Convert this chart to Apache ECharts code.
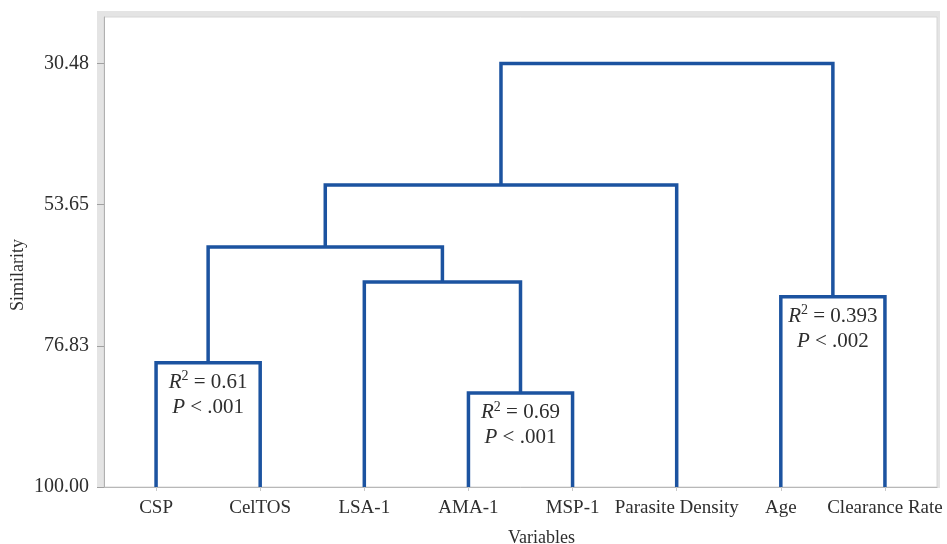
<!DOCTYPE html>
<html>
<head>
<meta charset="utf-8">
<script src="https://cdn.jsdelivr.net/npm/echarts@6/dist/echarts.min.js"></script>
<style>html,body{margin:0;padding:0;background:#fff}#c{width:947px;height:544px}</style>
</head>
<body>
<div id="c"></div>
<script>
// ---- data ----
var categories = ['CSP', 'CelTOS', 'LSA-1', 'AMA-1', 'MSP-1', 'Parasite Density', 'Age', 'Clearance Rate'];
var yTicks = [30.48, 53.65, 76.83, 100.00];
// linkage: [childA, childB, similarity]; leaves 0..7, merged nodes numbered from 8
var mergeA = [0, 3, 2, 8, 11, 6, 12];
var mergeB = [1, 4, 9, 10, 5, 7, 13];
var mergeSim = [79.59, 84.57, 66.35, 60.60, 50.42, 68.76, 30.48];
// annotations attached to merges
var annotMerge = [0, 1, 5];
var annotR2 = ['0.61', '0.69', '0.393'];
var annotP = ['.001', '.001', '.002'];

// ---- build dendrogram links ----
var nodeX = [], nodeH = [];
for (var i = 0; i < categories.length; i++) { nodeX.push(i); nodeH.push(100); }
var links = [];
for (var k = 0; k < mergeA.length; k++) {
  var a = mergeA[k], b = mergeB[k];
  links.push([nodeX[a], nodeH[a], nodeX[b], nodeH[b], mergeSim[k]]);
  nodeX.push((nodeX[a] + nodeX[b]) / 2);
  nodeH.push(mergeSim[k]);
}
var annots = annotMerge.map(function (m, j) {
  return [nodeX[categories.length + m], mergeSim[m], j];
});

var LINE = '#1c53a0';
var FONT = 'Liberation Serif';
var TXT = '#2e2e2e';
var chart = echarts.init(document.getElementById('c'), null, {renderer: 'canvas'});
chart.setOption({
  animation: false,
  backgroundColor: '#fff',
  graphic: [{
    type: 'rect', z: -10, zlevel: 0, silent: true,
    shape: {x: 97, y: 11, width: 843, height: 477},
    style: {fill: '#e4e4e4'}
  }],
  grid: {
    left: 104, top: 17, right: 10, bottom: 57,
    containLabel: false, outerBoundsMode: 'none',
    show: true, backgroundColor: '#fff', borderColor: '#d6d6d6', borderWidth: 1
  },
  xAxis: {
    type: 'value', min: -0.5, max: 7.5,
    name: 'Variables', nameLocation: 'middle', nameGap: 42, nameMoveOverlap: false,
    nameTextStyle: {fontFamily: FONT, fontSize: 18, color: TXT, padding: [0, 0, 0, 42]},
    axisLine: {show: true, onZero: false, lineStyle: {color: '#b8b8b8', width: 1}},
    axisTick: {show: true, length: 4, lineStyle: {color: '#c8c8c8'}, customValues: categories.map(function (c, i) { return i; })},
    axisLabel: {
      customValues: categories.map(function (c, i) { return i; }),
      formatter: function (v) { return categories[Math.round(v)]; },
      fontFamily: FONT, fontSize: 19, color: TXT, margin: 12
    },
    splitLine: {show: false}
  },
  yAxis: {
    type: 'value', inverse: true, min: 22.85, max: 100,
    name: 'Similarity', nameLocation: 'middle', nameGap: 77, nameMoveOverlap: false,
    nameTextStyle: {fontFamily: FONT, fontSize: 18, color: TXT, padding: [0, 46, 0, 0]},
    axisLine: {show: true, onZero: false, lineStyle: {color: '#b0b0b0', width: 1}},
    axisTick: {show: true, length: 7, lineStyle: {color: '#a0a0a0'}, customValues: yTicks},
    axisLabel: {
      customValues: yTicks,
      formatter: function (v) { return v.toFixed(2); },
      fontFamily: FONT, fontSize: 20, color: TXT, margin: 15
    },
    splitLine: {show: false}
  },
  series: [{
    type: 'custom',
    data: links,
    renderItem: function (params, api) {
      var p1 = api.coord([api.value(0), api.value(1)]);
      var p2 = api.coord([api.value(0), api.value(4)]);
      var p3 = api.coord([api.value(2), api.value(4)]);
      var p4 = api.coord([api.value(2), api.value(3)]);
      return {
        type: 'polyline',
        shape: {points: [p1, p2, p3, p4]},
        style: {stroke: LINE, lineWidth: 3.5, fill: null, lineJoin: 'miter', lineCap: 'butt'}
      };
    },
    z: 3
  }, {
    type: 'custom',
    data: annots,
    renderItem: function (params, api) {
      var j = api.value(2);
      var p = api.coord([api.value(0), api.value(1)]);
      return {
        type: 'text',
        style: {
          x: p[0], y: p[1] + 7,
          align: 'center', verticalAlign: 'top',
          text: '{i|R}{s|2}{n| = ' + annotR2[j] + '}\n{i|P}{n| < ' + annotP[j] + '}',
          fill: TXT,
          fontFamily: FONT, fontSize: 21, lineHeight: 25,
          rich: {
            i: {fontFamily: FONT, fontSize: 21, fontStyle: 'italic', lineHeight: 25, fill: TXT},
            n: {fontFamily: FONT, fontSize: 21, lineHeight: 25, fill: TXT},
            s: {fontFamily: FONT, fontSize: 14, lineHeight: 17, verticalAlign: 'top', fill: TXT}
          }
        }
      };
    },
    z: 4
  }]
});
</script>
</body>
</html>
